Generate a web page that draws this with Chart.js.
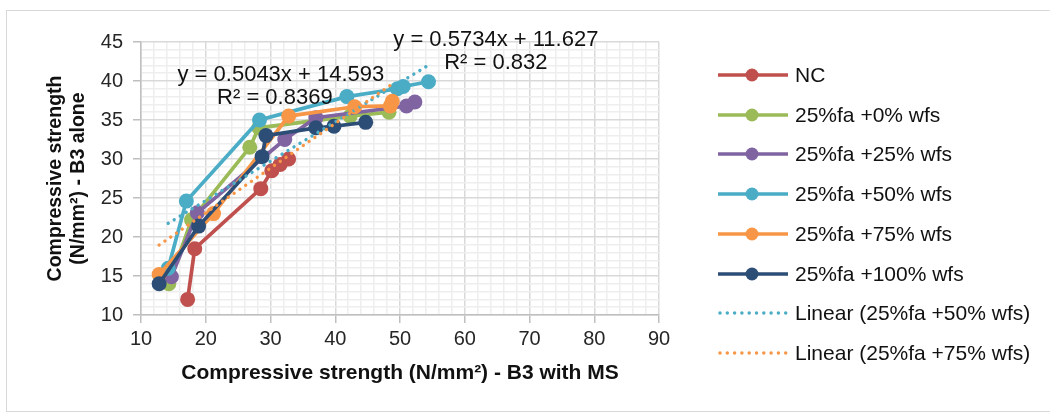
<!DOCTYPE html>
<html>
<head>
<meta charset="utf-8">
<script src="https://cdn.jsdelivr.net/npm/chart.js@4"></script>
<style>
    body { margin: 0; background: #fff; }
    #wrap { position: relative; width: 1050px; height: 412px; overflow: hidden; font-family: "Liberation Sans", Arial, sans-serif; }
    #frame { position: absolute; left: 6px; top: 10px; width: 1050px; height: 400px; border: 1px solid #d9d9d9; }
    #box { position: absolute; left: 0; top: 0; width: 1050px; height: 412px; }
    .row { position: absolute; left: 718px; height: 24px; display: flex; align-items: center; font-size: 21px; color: #111; white-space: nowrap; }
    .row svg { margin-right: 7px; }
</style>
</head>
<body>
<div id="wrap">
    <div id="frame"></div>
    <div id="box"><canvas id="strengthChart"></canvas></div>
    <div id="legend"></div>
</div>
<script>
//================================ Data =================================

const seriesNames = ['NC', '25%fa +0% wfs', '25%fa +25% wfs', '25%fa +50% wfs', '25%fa +75% wfs', '25%fa +100% wfs'];

const ncX = [17.2, 18.3, 28.5, 30.2, 31.5, 32.8];
const ncY = [12.0, 18.5, 26.2, 28.5, 29.3, 30.0];
const fa0X = [14.3, 17.8, 26.8, 28.2, 42.3, 48.3];
const fa0Y = [14.0, 22.2, 31.5, 34.0, 35.5, 36.0];
const fa25X = [14.7, 18.7, 32.2, 37.0, 51.0, 52.3];
const fa25Y = [14.9, 23.1, 32.5, 35.3, 36.8, 37.3];
const fa50X = [14.2, 17.0, 28.3, 41.8, 49.6, 50.5, 54.4];
const fa50Y = [16.0, 24.6, 35.0, 38.0, 39.0, 39.3, 39.9];
const fa75X = [12.8, 21.2, 32.8, 43.0, 48.5, 48.8];
const fa75Y = [15.2, 23.0, 35.5, 36.7, 36.8, 37.4];
const fa100X = [12.8, 18.9, 28.7, 29.3, 37.0, 39.8, 44.7];
const fa100Y = [14.0, 21.4, 30.3, 33.0, 34.0, 34.2, 34.7];

// linear trendlines shown on the chart (for 50% and 75% wfs)
const trendNames = ['Linear (25%fa +50% wfs)', 'Linear (25%fa +75% wfs)'];
const trendSlopes = [0.5043, 0.5734];
const trendIntercepts = [14.593, 11.627];
const trendR2 = ['0.8369', '0.832'];

const xTicks = [10, 20, 30, 40, 50, 60, 70, 80, 90];
const yTicks = [10, 15, 20, 25, 30, 35, 40, 45];

//================================ Styles =================================

const colors = ['#C0504D', '#9BBB59', '#8064A2', '#4BACC6', '#F79646', '#2C4D75'];
const trendColors = ['#4BACC6', '#F79646'];
const FONT = '"Liberation Sans", Arial, sans-serif';

const xsList = [ncX, fa0X, fa25X, fa50X, fa75X, fa100X];
const ysList = [ncY, fa0Y, fa25Y, fa50Y, fa75Y, fa100Y];
const trendSource = [3, 4];

function toPoints(xs, ys) {
    return xs.map((x, i) => ({ x: x, y: ys[i] }));
}

const datasets = [];

seriesNames.forEach((name, i) => {
    datasets.push({
        label: name,
        data: toPoints(xsList[i], ysList[i]),
        showLine: true,
        borderColor: colors[i],
        backgroundColor: colors[i],
        borderWidth: 3.7,
        pointRadius: 7.5,
        pointHoverRadius: 7.5,
        pointBorderWidth: 0,
        order: 20 - i
    });
});

trendNames.forEach((name, k) => {
    const xs = xsList[trendSource[k]];
    const x0 = Math.min(...xs);
    const x1 = Math.max(...xs);
    datasets.push({
        label: name,
        data: [
            { x: x0, y: trendSlopes[k] * x0 + trendIntercepts[k] },
            { x: x1, y: trendSlopes[k] * x1 + trendIntercepts[k] }
        ],
        showLine: true,
        borderColor: trendColors[k],
        borderWidth: 3.4,
        borderDash: [0.01, 7],
        borderCapStyle: 'round',
        pointRadius: 0,
        order: 2 - k
    });
});

// equation label anchors, in data units
const eqPosX = [31.6, 64.8];
const eqPosY = [40.8, 45.25];
const eqLine2Dx = [-6, 0];

const equationLabels = {
    id: 'equationLabels',
    afterDatasetsDraw(chart) {
        const { ctx, scales } = chart;
        ctx.save();
        ctx.font = '22px ' + FONT;
        ctx.fillStyle = '#111';
        ctx.textAlign = 'center';
        ctx.textBaseline = 'middle';
        trendSlopes.forEach((m, k) => {
            const px = scales.x.getPixelForValue(eqPosX[k]);
            const py = scales.y.getPixelForValue(eqPosY[k]);
            ctx.fillText('y = ' + m + 'x + ' + trendIntercepts[k], px, py);
            ctx.fillText('R² = ' + trendR2[k], px + eqLine2Dx[k], py + 23);
        });
        ctx.restore();
    }
};

//================================ Chart =================================

const isMajor = (v, list) => list.includes(v);

const strengthChart = new Chart(document.getElementById('strengthChart').getContext('2d'), {
    type: 'scatter',
    data: { datasets: datasets },
    plugins: [equationLabels],
    options: {
        responsive: true,
        maintainAspectRatio: false,
        animation: false,
        layout: { padding: { left: 44.5, top: 42, right: 391, bottom: 22 } },
        plugins: {
            legend: { display: false },
            tooltip: { enabled: false }
        },
        scales: {
            x: {
                type: 'linear',
                min: 10,
                max: 90,
                afterFit: s => { s.height = 75; },
                ticks: {
                    stepSize: 2,
                    autoSkip: false,
                    maxRotation: 0,
                    minRotation: 0,
                    padding: 4,
                    color: '#262626',
                    font: { family: FONT, size: 20 },
                    callback: v => isMajor(v, xTicks) ? String(v) : ''
                },
                grid: {
                    color: c => isMajor(c.tick.value, xTicks) ? '#d9d9d9' : '#eeeeee',
                    lineWidth: 1.5,
                    tickLength: 8,
                    tickColor: c => isMajor(c.tick.value, xTicks) ? '#bfbfbf' : 'rgba(0,0,0,0)'
                },
                border: { color: '#bfbfbf', width: 1.5 },
                title: {
                    display: true,
                    text: 'Compressive strength (N/mm²) - B3 with MS',
                    color: '#111',
                    font: { family: FONT, size: 21, weight: 'bold', lineHeight: 1.2 },
                    padding: { top: 0, bottom: 4 }
                }
            },
            y: {
                type: 'linear',
                min: 10,
                max: 45,
                afterFit: s => { s.width = 96.5; },
                ticks: {
                    stepSize: 1,
                    autoSkip: false,
                    padding: 10,
                    color: '#262626',
                    font: { family: FONT, size: 20 },
                    callback: v => isMajor(v, yTicks) ? String(v) : ''
                },
                grid: {
                    color: c => isMajor(c.tick.value, yTicks) ? '#d9d9d9' : '#eeeeee',
                    lineWidth: 1.5,
                    tickLength: 8,
                    tickColor: c => isMajor(c.tick.value, yTicks) ? '#bfbfbf' : 'rgba(0,0,0,0)'
                },
                border: { color: '#bfbfbf', width: 1.5 },
                title: {
                    display: true,
                    text: ['Compressive strength', '(N/mm²) - B3 alone'],
                    color: '#111',
                    font: { family: FONT, size: 19.5, weight: 'bold', lineHeight: 23 / 19.5 },
                    padding: { top: 0, bottom: 0 }
                }
            }
        }
    }
});

//================================ Legend =================================

function markerSvg(color, dotted) {
    if (dotted) {
        return '<svg width="70" height="14"><line x1="2" y1="7" x2="68" y2="7" stroke="' + color +
            '" stroke-width="3.5" stroke-linecap="round" stroke-dasharray="0 7.3"/></svg>';
    }
    return '<svg width="70" height="14"><line x1="0" y1="7" x2="70" y2="7" stroke="' + color +
        '" stroke-width="3.7"/><circle cx="34" cy="7" r="6.5" fill="' + color + '"/></svg>';
}

const legendEl = document.getElementById('legend');
const legendItems = seriesNames.map((n, i) => ({ name: n, color: colors[i], dotted: false }))
    .concat(trendNames.map((n, k) => ({ name: n, color: trendColors[k], dotted: true })));

legendItems.forEach((item, i) => {
    const row = document.createElement('div');
    row.className = 'row';
    row.style.top = (75 + i * 39.7 - 12) + 'px';
    row.innerHTML = markerSvg(item.color, item.dotted) + '<span>' + item.name + '</span>';
    legendEl.appendChild(row);
});
</script>
</body>
</html>
